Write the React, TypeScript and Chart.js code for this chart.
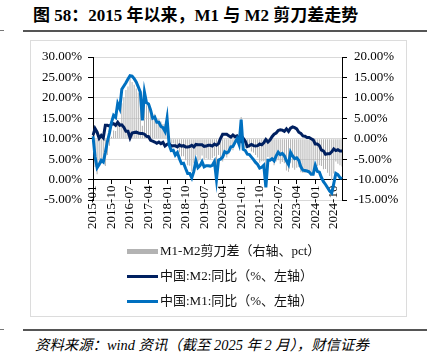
import React, { useEffect, useRef } from "react";
import { Chart, registerables } from "chart.js";

Chart.register(...registerables);

// ---- Data ----
const START_YEAR = 2015;
const END_YEAR = 2025;
const END_MONTH = 2;

const M2_2015 = [10.8, 12.5, 11.6, 10.1, 10.8, 10.2, 13.3, 13.3, 13.1, 13.5, 13.7, 13.3];
const M2_2016 = [14.0, 13.3, 13.4, 12.8, 11.8, 11.8, 10.2, 11.4, 11.5, 11.6, 11.4, 11.3];
const M2_2017 = [11.3, 11.1, 10.6, 10.5, 9.6, 9.4, 9.2, 8.9, 9.2, 8.8, 9.1, 8.2];
const M2_2018 = [8.6, 8.8, 8.2, 8.3, 8.3, 8.0, 8.5, 8.2, 8.3, 8.0, 8.0, 8.1];
const M2_2019 = [8.4, 8.0, 8.6, 8.5, 8.5, 8.5, 8.1, 8.2, 8.4, 8.4, 8.2, 8.7];
const M2_2020 = [8.4, 8.8, 10.1, 11.1, 11.1, 11.1, 10.7, 10.4, 10.9, 10.5, 10.7, 10.1];
const M2_2021 = [9.4, 10.1, 9.4, 8.1, 8.3, 8.6, 8.3, 8.2, 8.3, 8.7, 8.5, 9.0];
const M2_2022 = [9.8, 9.2, 9.7, 10.5, 11.1, 11.4, 12.0, 12.2, 12.1, 11.8, 12.4, 11.8];
const M2_2023 = [12.6, 12.9, 12.7, 12.4, 11.6, 11.3, 10.7, 10.6, 10.3, 10.3, 10.0, 9.7];
const M2_2024 = [8.7, 8.7, 8.3, 7.2, 7.0, 6.2, 6.3, 6.3, 6.8, 7.5, 7.1, 7.3];
const M2_2025 = [7.0, 7.0];

const M1_2015 = [10.6, 5.6, 2.9, 3.7, 4.7, 4.3, 6.6, 9.3, 11.4, 14.0, 15.7, 15.2];
const M1_2016 = [18.6, 17.4, 22.1, 22.9, 23.7, 24.6, 25.4, 25.3, 24.7, 23.9, 22.7, 21.4];
const M1_2017 = [14.5, 21.4, 18.8, 18.5, 17.0, 15.0, 15.3, 14.0, 14.0, 13.0, 12.7, 11.8];
const M1_2018 = [15.0, 8.5, 7.1, 7.2, 6.0, 6.6, 5.1, 3.9, 4.0, 2.7, 1.5, 1.5];
const M1_2019 = [0.4, 2.0, 4.6, 2.9, 3.4, 4.4, 3.1, 3.4, 3.4, 3.3, 3.5, 4.4];
const M1_2020 = [0.0, 4.8, 5.0, 5.5, 6.8, 6.5, 6.9, 8.0, 8.1, 9.1, 10.0, 8.6];
const M1_2021 = [14.7, 7.4, 7.1, 6.2, 6.1, 5.5, 4.9, 4.2, 3.7, 2.8, 3.0, 3.5];
const M1_2022 = [-1.9, 4.7, 4.7, 5.1, 4.6, 5.8, 6.7, 6.1, 6.4, 5.8, 4.6, 3.7];
const M1_2023 = [6.7, 5.8, 5.1, 5.3, 4.7, 3.1, 2.3, 2.2, 2.1, 1.9, 1.3, 1.3];
const M1_2024 = [3.5, 2.0, 1.8, 0.5, -0.5, -1.2, -2.0, -2.8, -3.3, -1.0, 1.5, 1.2];
const M1_2025 = [0.5, 0.2];

const M2_SERIES = [
  ...M2_2015, ...M2_2016, ...M2_2017, ...M2_2018, ...M2_2019, ...M2_2020,
  ...M2_2021, ...M2_2022, ...M2_2023, ...M2_2024, ...M2_2025,
];
const M1_SERIES = [
  ...M1_2015, ...M1_2016, ...M1_2017, ...M1_2018, ...M1_2019, ...M1_2020,
  ...M1_2021, ...M1_2022, ...M1_2023, ...M1_2024, ...M1_2025,
];
// M1-M2 scissors spread (pct), by definition
const SPREAD_SERIES = M1_SERIES.map((v, i) => Math.round((v - M2_SERIES[i]) * 10) / 10);

const CATEGORIES: string[] = [];
for (let y = START_YEAR; y <= END_YEAR; y++) {
  for (let m = 1; m <= 12; m++) {
    if (y === END_YEAR && m > END_MONTH) break;
    CATEGORIES.push(`${y}-${m < 10 ? "0" + m : m}`);
  }
}
const LABEL_EVERY = 9;

const LEFT_MIN = -5;
const LEFT_MAX = 30;
const RIGHT_MIN = -15;
const RIGHT_MAX = 20;
const TICK_STEP = 5;

const LEGEND_LABELS = [
  "M1-M2剪刀差（右轴、pct）",
  "中国:M2:同比（%、左轴）",
  "中国:M1:同比（%、左轴）",
];
const COLORS = ["#b3b3b3", "#002060", "#0070c0"];

const TITLE = "图 58：2015 年以来，M1 与 M2 剪刀差走势";
const SOURCE = "资料来源：wind 资讯（截至 2025 年 2 月），财信证券";

const SERIF = "'Liberation Serif', 'Noto Sans CJK SC', serif";

export default function App() {
  const ref = useRef<HTMLCanvasElement | null>(null);

  useEffect(() => {
    if (!ref.current) return;
    const tickFont = { family: "'Liberation Serif', serif", size: 13 };
    const chart = new Chart(ref.current, {
      type: "bar",
      data: {
        labels: CATEGORIES,
        datasets: [
          {
            type: "bar",
            label: LEGEND_LABELS[0],
            data: SPREAD_SERIES,
            yAxisID: "y1",
            backgroundColor: COLORS[0],
            barPercentage: 0.5,
            categoryPercentage: 1,
            order: 3,
          } as any,
          {
            type: "line",
            label: LEGEND_LABELS[1],
            data: M2_SERIES,
            yAxisID: "y",
            borderColor: COLORS[1],
            backgroundColor: COLORS[1],
            borderWidth: 3,
            pointRadius: 0,
            tension: 0,
            order: 2,
          },
          {
            type: "line",
            label: LEGEND_LABELS[2],
            data: M1_SERIES,
            yAxisID: "y",
            borderColor: COLORS[2],
            backgroundColor: COLORS[2],
            borderWidth: 3,
            pointRadius: 0,
            tension: 0,
            order: 1,
          },
        ],
      },
      options: {
        animation: false,
        responsive: false,
        maintainAspectRatio: false,
        layout: { padding: { top: 17, bottom: 117, left: 0, right: 0 } },
        plugins: { legend: { display: false }, tooltip: { enabled: false } },
        scales: {
          x: {
            type: "category",
            position: { y: 0 } as any,
            offset: false,
            grid: {
              display: true,
              offset: false,
              drawOnChartArea: false,
              drawTicks: true,
              tickLength: 4,
              color: (ctx: any) => (ctx.index % LABEL_EVERY === 0 ? "#000" : "rgba(0,0,0,0)"),
              tickColor: (ctx: any) => (ctx.index % LABEL_EVERY === 0 ? "#000" : "rgba(0,0,0,0)"),
            },
            border: { display: true, color: "#000", width: 1 },
            ticks: {
              autoSkip: false,
              maxRotation: 90,
              minRotation: 90,
              padding: 2,
              color: "#000",
              font: tickFont,
              callback: (_v: any, i: number) => (i % LABEL_EVERY === 0 ? CATEGORIES[i] : ""),
            },
          },
          y: {
            position: "left",
            min: LEFT_MIN,
            max: LEFT_MAX,
            ticks: {
              stepSize: TICK_STEP,
              padding: 6,
              color: "#000",
              font: tickFont,
              callback: (v: any) => Number(v).toFixed(2) + "%",
            },
            grid: { color: "#d9d9d9", tickColor: "#000", tickLength: 5, drawTicks: true },
            border: { display: true, color: "#000", width: 1 },
            afterFit: (s: any) => {
              s.width = 63;
            },
          },
          y1: {
            position: "right",
            min: RIGHT_MIN,
            max: RIGHT_MAX,
            ticks: {
              stepSize: TICK_STEP,
              padding: 7,
              color: "#000",
              font: tickFont,
              callback: (v: any) => Number(v).toFixed(2) + "%",
            },
            grid: { drawOnChartArea: false, tickColor: "#000", tickLength: 5, drawTicks: true },
            border: { display: true, color: "#000", width: 1 },
            afterFit: (s: any) => {
              s.width = 65;
            },
          },
        },
      } as any,
    });
    return () => chart.destroy();
  }, []);

  const legendY = [251, 276, 301];
  const legendThick = [5, 3, 3];

  return (
    <div
      style={{
        position: "fixed",
        left: 0,
        top: 0,
        width: 431,
        height: 361,
        background: "#fff",
        overflow: "hidden",
      }}
    >
      <div
        style={{
          position: "absolute",
          left: 33,
          top: 6,
          fontFamily: SERIF,
          fontWeight: "bold",
          fontSize: 17,
          lineHeight: "20px",
          whiteSpace: "nowrap",
          color: "#000",
        }}
      >
        {TITLE}
      </div>
      <div style={{ position: "absolute", left: 23, top: 30, width: 404, height: 2, background: "#555" }} />
      <div style={{ position: "absolute", left: 0, top: 30, width: 4, height: 1, background: "#777" }} />
      <div
        style={{
          position: "absolute",
          left: 30,
          top: 40,
          width: 377,
          height: 277,
          border: "1px solid #dcdcdc",
          boxSizing: "border-box",
        }}
      />
      <canvas
        ref={ref}
        width={377}
        height={277}
        style={{ position: "absolute", left: 30, top: 40, width: 377, height: 277 }}
      />
      {LEGEND_LABELS.map((lab, k) => (
        <React.Fragment key={k}>
          <div
            style={{
              position: "absolute",
              left: 127,
              top: legendY[k] - legendThick[k] / 2,
              width: 31,
              height: legendThick[k],
              background: COLORS[k],
            }}
          />
          <div
            style={{
              position: "absolute",
              left: 160,
              top: legendY[k] - 9,
              fontFamily: SERIF,
              fontSize: 13,
              lineHeight: "18px",
              whiteSpace: "nowrap",
              color: "#111",
            }}
          >
            {lab}
          </div>
        </React.Fragment>
      ))}
      <div style={{ position: "absolute", left: 23, top: 329, width: 404, height: 2, background: "#555" }} />
      <div style={{ position: "absolute", left: 0, top: 329, width: 4, height: 1, background: "#777" }} />
      <div
        style={{
          position: "absolute",
          left: 35,
          top: 336,
          fontFamily: SERIF,
          fontStyle: "italic",
          fontSize: 14.4,
          lineHeight: "18px",
          whiteSpace: "nowrap",
          color: "#000",
        }}
      >
        {SOURCE}
      </div>
    </div>
  );
}
